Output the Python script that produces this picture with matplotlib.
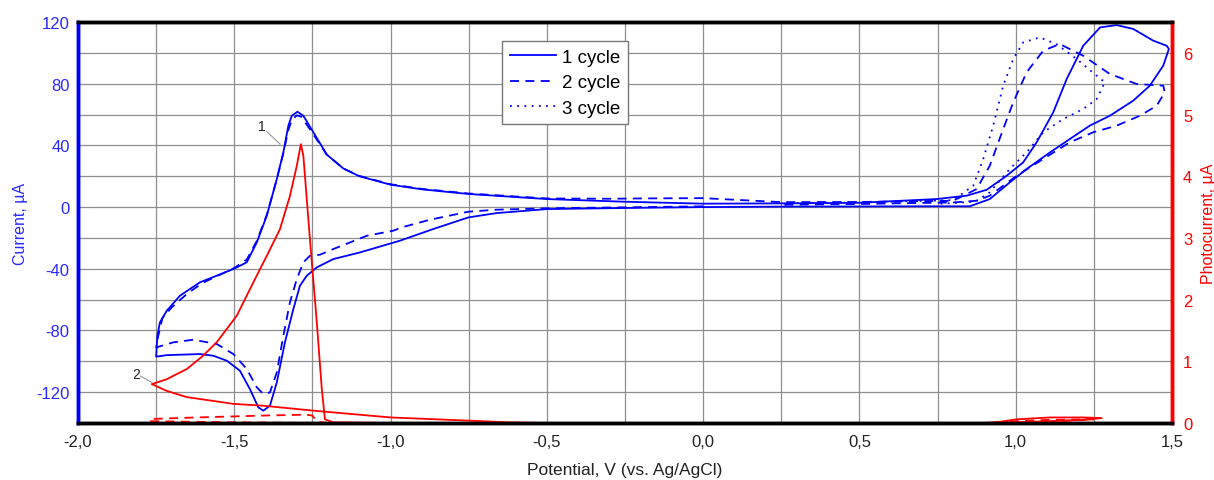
import matplotlib
matplotlib.use("Agg")
import matplotlib.pyplot as plt
from matplotlib.ticker import FuncFormatter, MultipleLocator

plt.rcParams['font.family'] = ['Liberation Sans', 'DejaVu Sans']
plt.rcParams['axes.unicode_minus'] = False

# ---- data: cycle 1 (solid) ----
c1_v = [0.0, -0.256, -0.5, -0.661, -0.751, -0.863, -0.97, -1.098, -1.183, -1.236, -1.268, -1.29,
        -1.311, -1.338, -1.364, -1.386, -1.407, -1.423, -1.45, -1.482, -1.524, -1.567, -1.61, -1.716, -1.75,
        -1.746, -1.738, -1.716, -1.674, -1.61, -1.503, -1.46, -1.428, -1.396, -1.364, -1.343, -1.327,
        -1.316, -1.298, -1.279, -1.247, -1.204, -1.151, -1.1, -1.0, -0.9, -0.751, -0.5, -0.256, 0.0, 0.25, 0.5,
        0.747, 0.843, 0.907, 0.971, 1.024, 1.067, 1.12, 1.163, 1.216, 1.27, 1.323, 1.376, 1.44, 1.483, 1.49,
        1.472, 1.429, 1.376, 1.301, 1.237, 1.173, 1.11, 1.035, 0.981, 0.917, 0.853, 0.7, 0.5, 0.25, 0.0]
c1_i = [0.0, -0.6, -1.3, -3.9, -6.7, -14.2, -21.8, -29.4, -33.7, -39.1, -44.5, -51,
        -66.1, -87.7, -113.7, -128.8, -132, -129.9, -118, -106.1, -99.6, -96.4, -95.3, -96, -97,
        -83.4, -74.8, -67.2, -57.5, -48.8, -40.2, -35.8, -22.9, -5.6, 18.2, 35.5, 52.8,
        59.2, 61.8, 59.2, 48.5, 34, 25, 20, 14.5, 11.5, 8.5, 5.2, 3.5, 2.2, 2.4, 2.8,
        5.2, 7.4, 11.2, 20.3, 29, 42, 61.4, 83, 104.6, 116.5, 118, 115.5, 107.9, 104.6, 102.5,
        91.7, 78.7, 69, 59.2, 52.8, 44.1, 35.5, 24.7, 16, 5.2, 0.5, 0.5, 0.4, 0.3, 0.0]

# ---- data: cycle 2 (dashed) ----
c2_v = [0.0, -0.256, -0.5, -0.661, -0.751, -0.874, -0.965, -0.991, -1.076, -1.183, -1.226, -1.258,
        -1.279, -1.3, -1.322, -1.343, -1.364, -1.386, -1.407, -1.428, -1.46, -1.503, -1.556, -1.631,
        -1.695, -1.75, -1.746, -1.73, -1.70, -1.65, -1.6, -1.5, -1.46, -1.428, -1.396, -1.364, -1.343,
        -1.327, -1.316, -1.3, -1.285, -1.25, -1.204, -1.151, -1.1, -1.0, -0.9, -0.75, -0.5, -0.3, -0.2, 0.0,
        0.25, 0.5, 0.75, 0.8, 0.875, 0.917, 0.96, 0.992, 1.035, 1.088, 1.141, 1.216, 1.301, 1.387,
        1.472, 1.477, 1.451, 1.397, 1.323, 1.248, 1.173, 1.088, 1.003, 0.917, 0.875, 0.8, 0.5, 0.25]
c2_i = [0.5, -0.2, -0.8, -1.7, -3.0, -8.2, -13.2, -15.3, -18.6, -27.2, -30.9, -31.6,
        -35.8, -46.7, -61.8, -83.4, -107.2, -120.2, -121.2, -116.9, -105, -95.3, -88.8, -86,
        -87.7, -91, -86, -72, -65, -56, -49, -39.5, -34, -22, -5, 18, 35,
        50, 56.5, 59.5, 58.5, 48, 34, 25, 20.2, 14.8, 11.8, 8.8, 5.6, 5.4, 5.6, 5.8,
        3.2, 3.3, 4.0, 4.1, 11.7, 26.8, 50.6, 67.9, 87.4, 101.4, 105.7, 98.1, 86.3, 79.8,
        78.7, 74.4, 65.7, 59.2, 52.8, 48.5, 42, 31.2, 20.3, 7.4, 4.1, 3.0, 2.0, 1.5]

# ---- data: cycle 3 (dotted) ----
c3_v = [0.3, 0.6, 0.8, 0.864, 0.896, 0.928, 0.96, 0.992, 1.024, 1.077, 1.13, 1.195, 1.259, 1.285,
        1.259, 1.216, 1.152, 1.088, 1.035, 0.981, 0.917, 0.87, 0.75]
c3_i = [2.5, 3.5, 4.5, 13.8, 31.2, 52.8, 78.7, 96, 106.8, 110, 105.7, 96, 85.2, 80.9,
        70, 63.6, 57.1, 48.5, 35.5, 24.7, 9.6, 3.5, 2.0]

# ---- data: photocurrent (right axis) ----
p1_v = [-0.5, -0.618, -0.757, -1.0, -1.247, -1.407, -1.503, -1.652, -1.716, -1.764,
        -1.716, -1.652, -1.6, -1.556, -1.492, -1.439, -1.396, -1.354, -1.322, -1.3, -1.287,
        -1.279, -1.258, -1.236, -1.22, -1.21, -1.183, -1.0, 0.0, 0.9, 0.95, 1.003, 1.11, 1.216,
        1.275, 1.216, 1.11, 1.0, 0.9]
p1_i = [0.0, 0.01, 0.04, 0.09, 0.2, 0.28, 0.31, 0.42, 0.52, 0.63,
        0.71, 0.875, 1.09, 1.31, 1.74, 2.28, 2.71, 3.14, 3.68, 4.17, 4.52,
        4.33, 2.98, 1.63, 0.55, 0.06, 0.01, 0.0, 0.0, 0.0, 0.02, 0.06, 0.09, 0.09,
        0.08, 0.05, 0.03, 0.01, 0.0]
p2_v = [-1.2, -1.5, -1.77, -1.77, -1.62, -1.41, -1.27, -1.25, -1.235, -1.2, -0.5, 0.9, 1.0, 1.1, 1.25, 1.1, 1.0]
p2_i = [0.0, 0.01, 0.03, 0.065, 0.09, 0.12, 0.135, 0.12, 0.02, 0.0, 0.0, 0.0, 0.03, 0.05, 0.06, 0.02, 0.0]

x_ticks = [-2.0, -1.5, -1.0, -0.5, 0.0, 0.5, 1.0, 1.5]
y_ticks = [-120, -80, -40, 0, 40, 80, 120]
y2_ticks = [0, 1, 2, 3, 4, 5, 6]

BLUE = '#0000ff'
TICKBLUE = '#2a2aff'
RED = '#ff0000'

fig = plt.figure(figsize=(12.14, 4.81), dpi=100)
ax = fig.add_axes([78/1214, 1-424/481, 1094/1214, 401/481])
ax2 = ax.twinx()

ax.set_xlim(-2.0, 1.5)
ax.set_ylim(-140, 120)
ax2.set_ylim(0, 6.5)

# grid
ax.xaxis.set_minor_locator(MultipleLocator(0.25))
ax.yaxis.set_minor_locator(MultipleLocator(20))
ax.grid(which='both', color='#8f8f8f', lw=0.9, zorder=0)
ax.set_axisbelow(True)

l1, = ax.plot(c1_v, c1_i, color=BLUE, lw=1.3, ls='-', label='1 cycle')
l2, = ax.plot(c2_v, c2_i, color=BLUE, lw=1.3, ls=(0, (5, 3.5)), label='2 cycle')
l3, = ax.plot(c3_v, c3_i, color=BLUE, lw=1.3, ls=(0, (1, 3)), label='3 cycle')

ax2.plot(p1_v, p1_i, color=RED, lw=1.3)
ax2.plot(p2_v, p2_i, color=RED, lw=1.3, ls=(0, (5, 3.5)))

ax.set_xticks(x_ticks)
ax.set_yticks(y_ticks)
ax2.set_yticks(y2_ticks)
ax.xaxis.set_major_formatter(FuncFormatter(lambda v, p: f"{v:.1f}".replace('.', ',')))
ax.yaxis.set_major_formatter(FuncFormatter(lambda v, p: f"{int(round(v))}"))
ax2.yaxis.set_major_formatter(FuncFormatter(lambda v, p: f"{int(round(v))}"))

ax.tick_params(axis='both', which='both', length=0)
ax2.tick_params(axis='both', which='both', length=0)
ax.tick_params(axis='x', labelsize=12, colors='#222222', pad=8)
ax.tick_params(axis='y', labelsize=12, labelcolor=TICKBLUE, pad=6)
ax2.tick_params(axis='y', labelsize=12, labelcolor=RED, pad=8)

for a in (ax, ax2):
    a.spines['top'].set_color('black')
    a.spines['top'].set_linewidth(2.5)
    a.spines['bottom'].set_color('black')
    a.spines['bottom'].set_linewidth(2.5)
    a.spines['left'].set_color(BLUE)
    a.spines['left'].set_linewidth(2.5)
    a.spines['right'].set_color(RED)
    a.spines['right'].set_linewidth(2.5)

ax.set_xlabel('Potential, V (vs. Ag/AgCl)', fontsize=12.5, color='#222222', labelpad=9)
ax.set_ylabel('Current, µA', fontsize=11.5, color=TICKBLUE, labelpad=6)
ax2.set_ylabel('Photocurrent, µA', fontsize=11.5, color=RED, labelpad=6)

leg = ax.legend(handles=[l1, l2, l3], loc='upper left', bbox_to_anchor=(0.388, 0.952),
                fontsize=13.5, frameon=True, fancybox=False, edgecolor='#777777',
                framealpha=1, handlelength=2.45, borderpad=0.4, labelspacing=0.45,
                handletextpad=0.35, borderaxespad=0)
leg.get_frame().set_linewidth(1.0)

# annotations
ax.plot([-1.396, -1.354], [49.0, 40.9], color='#999999', lw=0.8)
ax.text(-1.412, 52.6, '1', fontsize=10, color='#222222', ha='center', va='center')
ax2.plot([-1.80, -1.764], [0.76, 0.66], color='#999999', lw=0.8)
ax2.text(-1.815, 0.79, '2', fontsize=10, color='#222222', ha='center', va='center')

fig.savefig('out.png', dpi=100)
